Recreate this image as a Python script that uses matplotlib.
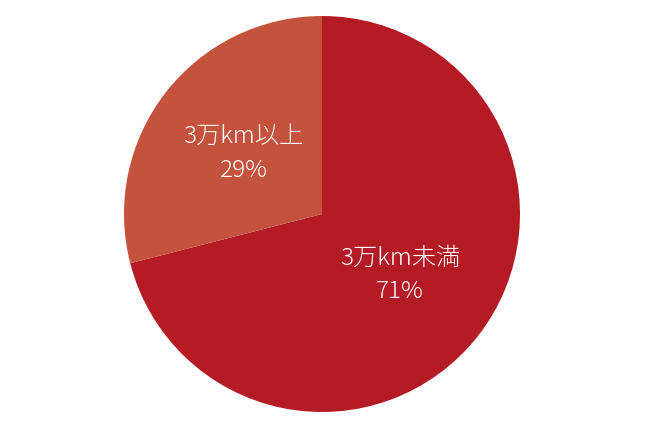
import matplotlib

matplotlib.use("Agg")
import matplotlib.pyplot as plt
import numpy as np

plt.rcParams['font.family'] = ['Noto Sans CJK JP', 'DejaVu Sans']

labels = ["3万km未満", "3万km以上"]
shares = [71, 29]
colors = ["#B51B24", "#C5523C"]

fig = plt.figure(figsize=(6.45, 4.3), dpi=100)
cx, cy, r = 322, 214, 198
ax = fig.add_axes([(cx - r) / 645, (430 - cy - r) / 430, 2 * r / 645, 2 * r / 430])
wedges, _ = ax.pie(shares, colors=colors, startangle=90, counterclock=False,
                   radius=1.0, wedgeprops={"linewidth": 0})
ax.set_xlim(-1, 1)
ax.set_ylim(-1, 1)
ax.set_aspect("equal")
ax.axis("off")

for w, lab, s in zip(wedges, labels, shares):
    mid = np.deg2rad((w.theta1 + w.theta2) / 2)
    ax.text(0.5 * np.cos(mid), 0.5 * np.sin(mid), f"{lab}\n{s}%",
            ha="center", va="center", color="white", fontsize=17.5,
            fontweight="light", linespacing=1.45)

fig.savefig("out.png", dpi=100)
